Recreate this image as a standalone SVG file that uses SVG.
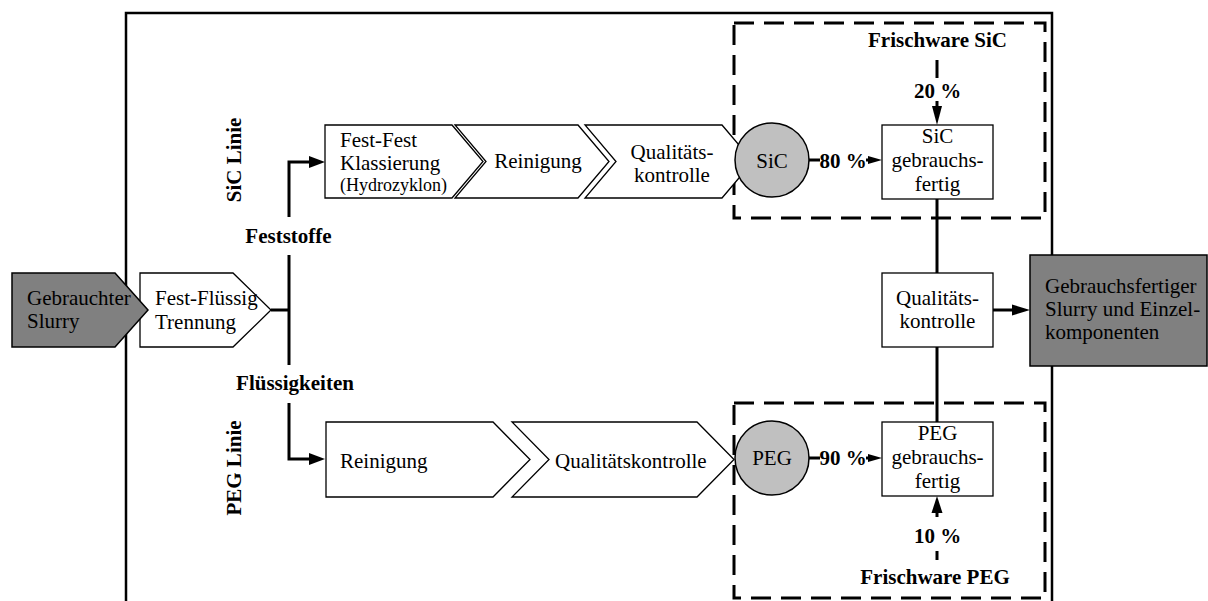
<svg xmlns="http://www.w3.org/2000/svg" width="1208" height="601" viewBox="0 0 1208 601">
  <defs>
    <style>
      .t { font-family: "Liberation Serif", "Times New Roman", serif; font-size: 21px; fill: #000; }
      .b { font-family: "Liberation Serif", "Times New Roman", serif; font-size: 21px; font-weight: bold; fill: #000; }
      .s { font-size: 18px; }
      .mid { text-anchor: middle; }
      .shape { fill: #fff; stroke: #000; stroke-width: 1.3; }
      .dark { fill: #808080; stroke: #000; stroke-width: 1.5; }
      .disc { fill: #c0c0c0; stroke: #000; stroke-width: 1.5; }
      .conn { fill: none; stroke: #000; stroke-width: 3; }
      .dash { fill: none; stroke: #000; stroke-width: 3; stroke-dasharray: 20 10; }
      .head { fill: #000; stroke: none; }
    </style>
  </defs>
  <rect width="1208" height="601" fill="#fff"/>

  <!-- system boundary -->
  <path id="frame" d="M126,601 V13 H1052 V601" fill="none" stroke="#000" stroke-width="2.5"/>

  <!-- dashed regions -->
  <rect id="region-sic" class="dash" x="734" y="23" width="311" height="195"/>
  <rect id="region-peg" class="dash" x="734" y="403" width="311" height="195"/>

  <!-- connectors -->
  <g id="connectors">
    <path class="conn" d="M271,310 H289"/>
    <path class="conn" d="M289,217 V162 H312"/>
    <path class="conn" d="M289,255 V365"/>
    <path class="conn" d="M289,403 V459 H312"/>
    <polygon class="head" points="309,156 325,162 309,168"/>
    <polygon class="head" points="309,453 325,459 309,465"/>
    <path class="conn" d="M937,199 V273"/>
    <path class="conn" d="M937,347 V422"/>
    <path class="conn" d="M993,310 H1014"/>
    <polygon class="head" points="1012,304.5 1030,310 1012,315.5"/>
    <path class="conn" d="M808,160 H820"/>
    <path class="conn" d="M866,160 H870"/>
    <polygon class="head" points="868,156 882,160 868,164"/>
    <path class="conn" d="M808,458 H820"/>
    <path class="conn" d="M866,458 H870"/>
    <polygon class="head" points="868,454 882,458 868,462"/>
    <path class="conn" d="M937,60 V78"/>
    <path class="conn" d="M937,101 V108"/>
    <polygon class="head" points="932,106 942,106 937,125"/>
    <path class="conn" d="M937,511 V517"/>
    <polygon class="head" points="931.5,513 942.5,513 937,496"/>
    <path class="conn" d="M937,551 V560"/>
  </g>

  <!-- input and separation -->
  <g id="node-trennung">
    <polygon class="shape" points="140,273 233,273 271,310 233,347 140,347"/>
    <text class="t" x="155" y="305">Fest-Flüssig</text>
    <text class="t" x="155" y="329">Trennung</text>
  </g>
  <g id="node-input">
    <polygon class="dark" points="12,273 115,273 148,310 115,347 12,347"/>
    <text class="t" x="27" y="305">Gebrauchter</text>
    <text class="t" x="27" y="328">Slurry</text>
  </g>

  <!-- branch labels -->
  <text class="b mid" x="288.5" y="243">Feststoffe</text>
  <text class="b mid" x="295" y="390">Flüssigkeiten</text>
  <text class="b mid" transform="translate(241,160) rotate(-90)">SiC Linie</text>
  <text class="b mid" transform="translate(241,468) rotate(-90)">PEG Linie</text>

  <!-- SiC line -->
  <g id="node-klassierung">
    <polygon class="shape" points="325,125 452,125 483,161.5 452,198 325,198"/>
    <text class="t" x="340" y="147">Fest-Fest</text>
    <text class="t" x="340" y="170">Klassierung</text>
    <text class="t s" x="340" y="191">(Hydrozyklon)</text>
  </g>
  <g id="node-sic-reinigung">
    <polygon class="shape" points="455,125 578,125 609,161.5 578,198 455,198 486,161.5"/>
    <text class="t mid" x="538" y="168">Reinigung</text>
  </g>
  <g id="node-sic-qk">
    <polygon class="shape" points="585,125 722,125 753,161.5 722,198 585,198 616,161.5"/>
    <text class="t mid" x="672" y="159">Qualitäts-</text>
    <text class="t mid" x="672" y="182">kontrolle</text>
  </g>
  <g id="node-sic">
    <circle class="disc" cx="772" cy="160" r="37"/>
    <text class="t mid" x="772" y="168">SiC</text>
  </g>
  <text class="b mid" x="843" y="168">80 %</text>
  <g id="node-sic-fertig">
    <rect class="shape" x="882" y="125" width="111" height="74"/>
    <text class="t mid" x="937.5" y="143">SiC</text>
    <text class="t mid" x="937.5" y="167">gebrauchs-</text>
    <text class="t mid" x="937.5" y="191">fertig</text>
  </g>
  <text class="b mid" x="937.5" y="47">Frischware SiC</text>
  <text class="b mid" x="937.5" y="98">20 %</text>

  <!-- PEG line -->
  <g id="node-peg-reinigung">
    <polygon class="shape" points="326,422 493,422 530,459.5 493,497 326,497"/>
    <text class="t" x="340" y="468">Reinigung</text>
  </g>
  <g id="node-peg-qk">
    <polygon class="shape" points="512,422 697,422 734,459.5 697,497 512,497 549,459.5"/>
    <text class="t" x="555" y="468">Qualitätskontrolle</text>
  </g>
  <g id="node-peg">
    <circle class="disc" cx="772" cy="458" r="37"/>
    <text class="t mid" x="772" y="465">PEG</text>
  </g>
  <text class="b mid" x="843" y="465">90 %</text>
  <g id="node-peg-fertig">
    <rect class="shape" x="882" y="422" width="111" height="74"/>
    <text class="t mid" x="937.5" y="440">PEG</text>
    <text class="t mid" x="937.5" y="464">gebrauchs-</text>
    <text class="t mid" x="937.5" y="488">fertig</text>
  </g>
  <text class="b mid" x="937.5" y="543">10 %</text>
  <text class="b mid" x="935" y="584">Frischware PEG</text>

  <!-- final control and output -->
  <g id="node-qk">
    <rect class="shape" x="882" y="273" width="111" height="74"/>
    <text class="t mid" x="937.5" y="305">Qualitäts-</text>
    <text class="t mid" x="937.5" y="328">kontrolle</text>
  </g>
  <g id="node-output">
    <rect class="dark" x="1030" y="255" width="177" height="111"/>
    <text class="t" x="1045" y="293">Gebrauchsfertiger</text>
    <text class="t" x="1045" y="316">Slurry und Einzel-</text>
    <text class="t" x="1045" y="339">komponenten</text>
  </g>
</svg>
